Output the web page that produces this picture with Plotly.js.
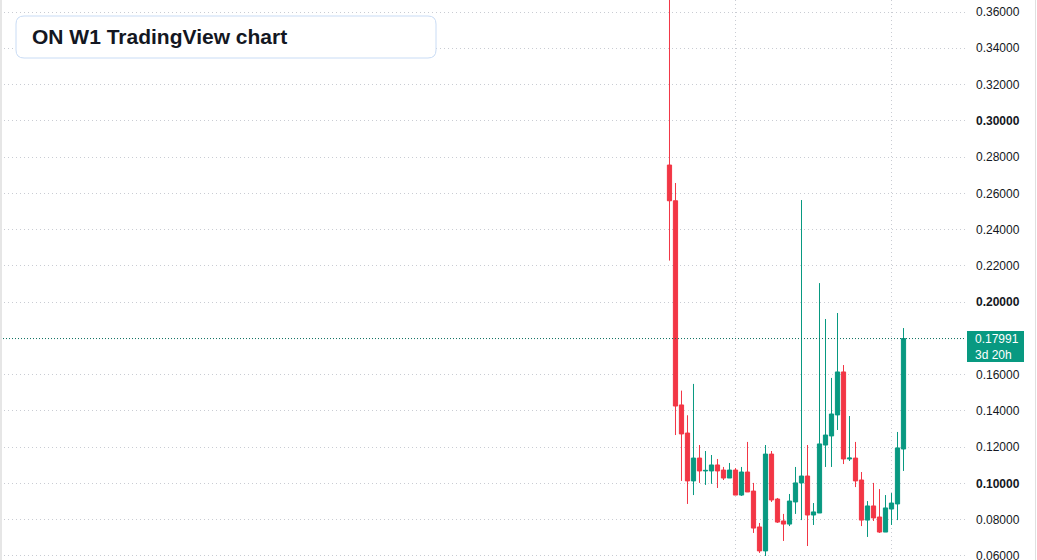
<!DOCTYPE html>
<html>
<head>
<meta charset="utf-8">
<script src="https://cdn.plot.ly/plotly-3.0.1.min.js"></script>
<style>
  html, body { margin: 0; padding: 0; background: #ffffff; }
  #chart { width: 1037px; height: 560px; }
</style>
</head>
<body>
<div id="chart"></div>
<script>
// Weekly candles (index = week number in view)
var openP  = [0.2756,0.2559,0.1433,0.1278,0.1014,0.1140,0.1069,0.1069,0.1102,0.1074,
              0.1030,0.1074,0.0936,0.1063,0.0958,0.0760,0.0628,0.1162,0.0914,0.0793,
              0.0776,0.0898,0.1003,0.1041,0.0826,0.0837,0.1212,0.1262,0.1378,0.1615,
              0.1135,0.1140,0.1019,0.0798,0.0876,0.0815,0.0732,0.0859,0.0887,0.1190];
var highP  = [0.4000,0.2657,0.1512,0.1376,0.1549,0.1212,0.1179,0.1157,0.1135,0.1091,
              0.1113,0.1085,0.1091,0.1229,0.1003,0.0782,0.1212,0.1179,0.0920,0.0832,
              0.0942,0.1091,0.2563,0.1212,0.0892,0.2105,0.1907,0.1582,0.1940,0.1653,
              0.1372,0.1229,0.1063,0.0903,0.1003,0.0969,0.0936,0.0947,0.1284,0.1857];
var lowP   = [0.2229,0.1267,0.1014,0.0887,0.0936,0.1003,0.0992,0.0998,0.0975,0.1019,
              0.1030,0.0936,0.0931,0.0953,0.0727,0.0617,0.0600,0.0898,0.0782,0.0683,
              0.0765,0.0832,0.0798,0.0655,0.0771,0.0837,0.1091,0.1091,0.1295,0.1107,
              0.1124,0.0980,0.0765,0.0705,0.0793,0.0727,0.0732,0.0771,0.0798,0.1069];
var closeP = [0.2559,0.1427,0.1273,0.1014,0.1140,0.1069,0.1072,0.1102,0.1069,0.1030,
              0.1074,0.0936,0.1063,0.0953,0.0754,0.0628,0.1162,0.0909,0.0787,0.0776,
              0.0903,0.1003,0.1041,0.0826,0.0843,0.1218,0.1267,0.1383,0.1615,0.1135,
              0.1140,0.1014,0.0798,0.0876,0.0810,0.0732,0.0865,0.0892,0.1196,0.17991];
var lastPrice = 0.17991;
var lastLabel = "0.17991<br>3d 20h";
var priceTicks = [0.06,0.08,0.10,0.12,0.14,0.16,0.20,0.22,0.24,0.26,0.28,0.30,0.32,0.34,0.36];
var boldTicks = [0.10,0.20,0.30];
var timeGridWeeks = [11, 37];
var chartTitle = "ON W1 TradingView chart";

var weekIdx = openP.map(function(_, i){ return i; });

var UP = '#089981', DOWN = '#F23645';
var W = 1037, H = 560, PLOT_W = 965;
function px(x){ return x / PLOT_W; }
function py(y){ return 1 - y / H; }

var tickText = priceTicks.map(function(v){
  var s = v.toFixed(5);
  var isBold = boldTicks.some(function(b){ return Math.abs(b - v) < 1e-9; });
  return isBold ? '<b>' + s + '</b>' : s;
});

var trace = {
  type: 'candlestick',
  x: weekIdx,
  open: openP, high: highP, low: lowP, close: closeP,
  increasing: { line: { color: UP, width: 1 }, fillcolor: UP },
  decreasing: { line: { color: DOWN, width: 1 }, fillcolor: DOWN },
  whiskerwidth: 0,
  hoverinfo: 'skip',
  showlegend: false
};

// rounded title box (paper coords)
var bx0 = 16, bx1 = 436, by0 = 16, by1 = 58, r = 8;
var boxPath = 'M ' + px(bx0 + r) + ',' + py(by0) +
  ' L ' + px(bx1 - r) + ',' + py(by0) +
  ' Q ' + px(bx1) + ',' + py(by0) + ' ' + px(bx1) + ',' + py(by0 + r) +
  ' L ' + px(bx1) + ',' + py(by1 - r) +
  ' Q ' + px(bx1) + ',' + py(by1) + ' ' + px(bx1 - r) + ',' + py(by1) +
  ' L ' + px(bx0 + r) + ',' + py(by1) +
  ' Q ' + px(bx0) + ',' + py(by1) + ' ' + px(bx0) + ',' + py(by1 - r) +
  ' L ' + px(bx0) + ',' + py(by0 + r) +
  ' Q ' + px(bx0) + ',' + py(by0) + ' ' + px(bx0 + r) + ',' + py(by0) + ' Z';

var GRID = '#c9ccd3';

var layout = {
  width: W, height: H,
  margin: { l: 0, r: W - PLOT_W, t: 0, b: 0, pad: 0 },
  paper_bgcolor: '#ffffff',
  plot_bgcolor: '#ffffff',
  font: { family: 'Liberation Sans, Arial, sans-serif', size: 12, color: '#131722' },
  showlegend: false,
  hovermode: false,
  boxgap: 0.3,
  boxgroupgap: 0,
  xaxis: {
    range: [-111.58, 49.25],
    tickmode: 'array',
    tickvals: timeGridWeeks,
    showticklabels: false,
    ticks: '',
    showgrid: true,
    gridcolor: GRID,
    griddash: '1px,3px',
    gridwidth: 1,
    zeroline: false,
    showline: false,
    rangeslider: { visible: false },
    fixedrange: true
  },
  yaxis: {
    side: 'right',
    range: [0.36 - 548 / 1813.3, 0.36 + 12 / 1813.3],
    tickmode: 'array',
    tickvals: priceTicks,
    ticktext: tickText,
    ticks: '',
    ticklabelstandoff: 10,
    ticklabeloverflow: 'allow',
    tickfont: { size: 12, color: '#131722' },
    showgrid: true,
    gridcolor: GRID,
    griddash: '1px,3px',
    gridwidth: 1,
    zeroline: false,
    showline: false,
    fixedrange: true
  },
  shapes: [
    { type: 'line', xref: 'paper', yref: 'y', x0: 0, x1: 1, y0: lastPrice, y1: lastPrice,
      line: { color: '#0a6f5e', width: 1, dash: '1px,2px' } },
    { type: 'rect', xref: 'paper', yref: 'paper', x0: 0, x1: px(2), y0: 0, y1: 1,
      fillcolor: '#e6e6e6', line: { width: 0 } },
    { type: 'line', xref: 'paper', yref: 'paper', x0: px(1035.5), x1: px(1035.5), y0: 0, y1: 1,
      line: { color: '#e0e0e0', width: 1 } },
    { type: 'path', xref: 'paper', yref: 'paper', path: boxPath,
      fillcolor: '#ffffff', line: { color: '#c9dcf5', width: 1 } },
    { type: 'rect', xref: 'paper', yref: 'paper', x0: px(967), x1: px(1024), y0: py(362), y1: py(331),
      fillcolor: UP, line: { width: 0 } }
  ],
  annotations: [
    { xref: 'paper', yref: 'paper', x: px(30), y: py(37), xanchor: 'left', yanchor: 'middle',
      text: '<b>' + chartTitle + '</b>', showarrow: false,
      font: { size: 21, color: '#131722', family: 'Liberation Sans, Arial, sans-serif' } },
    { xref: 'paper', yref: 'paper', x: px(974), y: py(346.5), xanchor: 'left', yanchor: 'middle',
      text: lastLabel, showarrow: false, align: 'left', borderpad: 0,
      font: { size: 12, color: '#ffffff', family: 'Liberation Sans, Arial, sans-serif' } }
  ]
};

Plotly.newPlot('chart', [trace], layout, { displayModeBar: false, staticPlot: true });
</script>
</body>
</html>
